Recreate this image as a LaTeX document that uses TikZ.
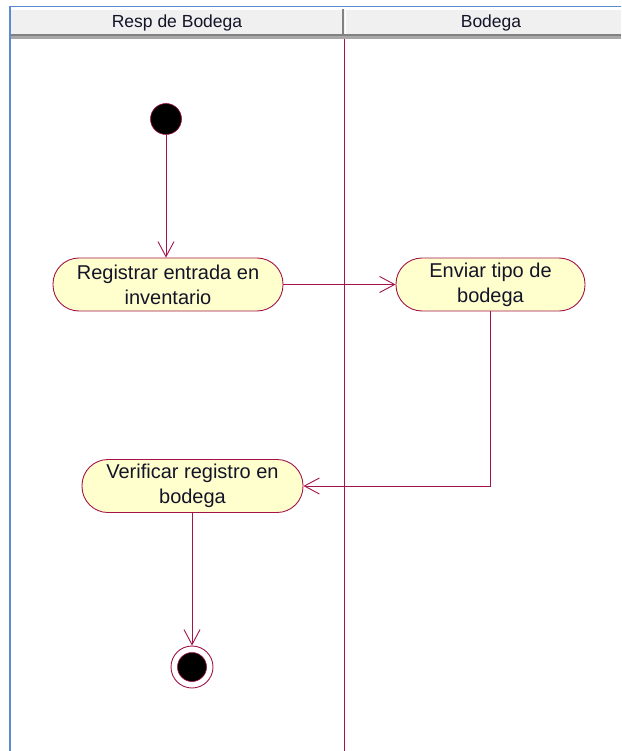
\documentclass[tikz,border=0pt]{standalone}
\usepackage{fontspec}
\setmainfont{Liberation Sans}
\usetikzlibrary{arrows.meta}
\definecolor{flow}{RGB}{162,20,74}
\definecolor{actfill}{RGB}{255,255,206}
\definecolor{frameblue}{RGB}{90,140,210}
\definecolor{headgray}{RGB}{240,240,240}
\definecolor{headline}{RGB}{130,130,130}
\definecolor{inktext}{RGB}{20,20,40}
\tikzset{
  activity/.style={draw=flow, fill=actfill, line width=0.9pt, rounded corners=26pt,
    minimum height=53pt, inner sep=0pt, align=center, text=inktext,
    font=\fontsize{20}{25}\selectfont},
  flowline/.style={draw=flow, line width=0.9pt,
    -{Straight Barb[length=15pt,width=16pt,line width=0.9pt]}},
  lanetitle/.style={font=\fontsize{17.5}{19}\selectfont, anchor=center, inner sep=0pt, text=inktext}
}
\begin{document}
\begin{tikzpicture}[x=1pt,y=-1pt]
\useasboundingbox (0,0) rectangle (621,751);
\fill[white] (0,0) rectangle (621,751);
% header band of the swimlanes
\fill[headgray] (10,10) rectangle (621,34);
\fill[headline] (10,34) rectangle (621,36.5);
\fill[headline!70] (10,36.5) rectangle (621,39);
\draw[headline, line width=1.6pt] (343,9) -- (343,36);
\draw[white, line width=0.6pt] (345.5,10) -- (345.5,34);
\node[lanetitle] (lane1) at (177,22.5) {Resp de Bodega};
\node[lanetitle] (lane2) at (491,22.5) {Bodega};
% frame
\draw[frameblue, line width=1.6pt] (10,751) -- (10,6.5) -- (621,6.5);
% lane divider
\draw[flow, line width=1pt] (344,39) -- (344,751);
% initial and final states
\node[circle, fill=black, draw=flow, line width=0.6pt, minimum size=31pt, inner sep=0pt] (start) at (166,119) {};
\node[circle, draw=flow, fill=white, line width=0.9pt, minimum size=42pt, inner sep=0pt] (final) at (192,667) {};
\node[circle, fill=black, draw=flow, line width=0.6pt, minimum size=29pt, inner sep=0pt] (finalcore) at (192,667) {};
% activities
\node[activity, minimum width=230pt] (reg) at (168,284.5) {Registrar entrada en\\inventario};
\node[activity, minimum width=189pt] (env) at (490.5,284.5) {Enviar tipo de\\bodega};
\node[activity, minimum width=221pt] (ver) at (192.5,486) {Verificar registro en\\bodega};
% transitions
\draw[flowline] (start) -- (start |- reg.north);
\draw[flowline] (reg.east) -- (env.west);
\coordinate (bend) at (490,486);
\draw[flowline] (env.south -| bend) -- (bend) -- (ver.east);
\draw[flowline] (ver.south -| final) -- (final.north);
\end{tikzpicture}
\end{document}
